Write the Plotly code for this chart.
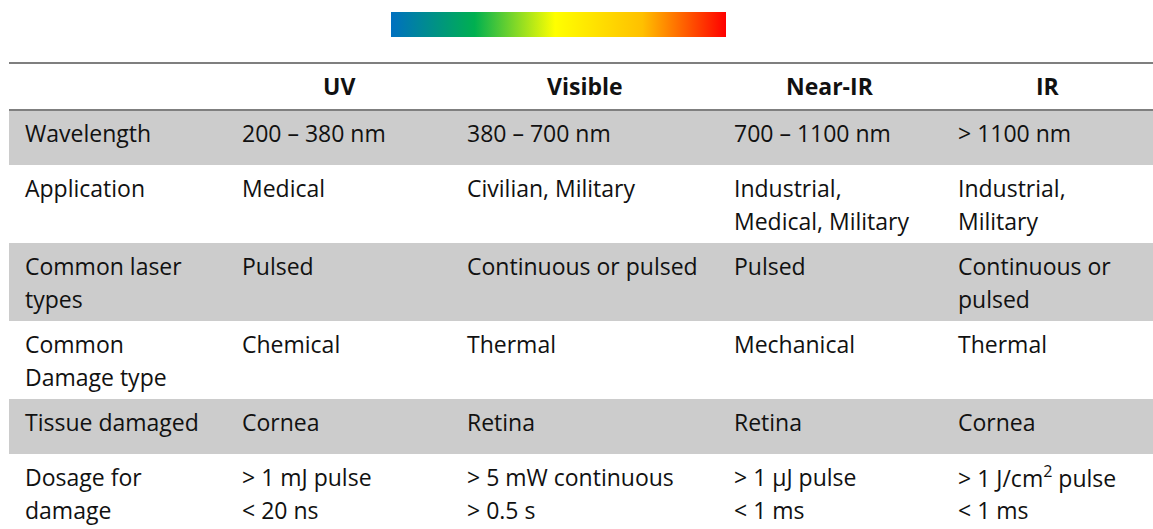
import plotly.graph_objects as go

# table content
headers = ["", "UV", "Visible", "Near-IR", "IR"]
row_labels = ["Wavelength", "Application", "Common laser<br>types",
              "Common<br>Damage type", "Tissue damaged", "Dosage for<br>damage"]
uv = ["200 – 380 nm", "Medical", "Pulsed", "Chemical", "Cornea",
      "> 1 mJ pulse<br>< 20 ns"]
visible = ["380 – 700 nm", "Civilian, Military", "Continuous or pulsed",
           "Thermal", "Retina", "> 5 mW continuous<br>> 0.5 s"]
near_ir = ["700 – 1100 nm", "Industrial,<br>Medical, Military", "Pulsed",
           "Mechanical", "Retina", "> 1 µJ pulse<br>< 1 ms"]
ir = ["> 1100 nm", "Industrial,<br>Military", "Continuous or<br>pulsed",
      "Thermal", "Cornea", "> 1 J/cm<sup>2</sup> pulse<br>< 1 ms"]

# spectrum strip
spectrum_stops = [0.0, 0.25, 0.49, 0.75, 1.0]
spectrum_colors = ["#0070C0", "#00B050", "#FFFF00", "#FFC000", "#FF0000"]

W, H = 1153, 529
FONT = "Open Sans"
FS = 23
col_widths = [217, 225, 267, 224, 211]
left = 9
header_top, header_h = 63, 47
row_h = {1: 55, 2: 78}
pad_x, first_line, line_gap = 14, 23, 33
shade = "#CCCCCC"
rule = "#7F7F7F"
ink = "#111111"

columns = [row_labels, uv, visible, near_ir, ir]
col_left = [left]
for w in col_widths[:-1]:
    col_left.append(col_left[-1] + w)

fig = go.Figure()

# gradient strip drawn as a horizontal colorbar
fig.add_trace(go.Scatter(
    x=[-100], y=[-100], mode="markers", hoverinfo="skip", showlegend=False,
    marker=dict(
        size=1, color=[0], cmin=0, cmax=1,
        colorscale=[[s, c] for s, c in zip(spectrum_stops, spectrum_colors)],
        showscale=True,
        colorbar=dict(
            orientation="h", x=391 / W, y=1 - 12 / H, xanchor="left", yanchor="top",
            lenmode="pixels", len=335, thickness=25, outlinewidth=0,
            ticks="", showticklabels=False, xpad=0, ypad=0,
        ),
    ),
))

shapes = []
annotations = []

# header
for c, h in enumerate(headers):
    if h:
        annotations.append(dict(
            x=col_left[c] + col_widths[c] / 2, y=header_top + header_h / 2 - 1,
            text="<b>" + h + "</b>", xanchor="center", yanchor="middle",
            showarrow=False, font=dict(family=FONT, size=FS, color=ink)))

# body rows
y = header_top + header_h
for r in range(len(row_labels)):
    n_lines = max(col[r].count("<br>") + 1 for col in columns)
    h = row_h[n_lines]
    if r % 2 == 0:
        shapes.append(dict(type="rect", xref="x", yref="y", x0=left, x1=W,
                           y0=y, y1=y + h, fillcolor=shade, line_width=0,
                           layer="below"))
    for c, col in enumerate(columns):
        for k, part in enumerate(col[r].split("<br>")):
            annotations.append(dict(
                x=col_left[c] + pad_x, y=y + first_line + k * line_gap,
                text=part, xanchor="left", yanchor="middle", showarrow=False,
                font=dict(family=FONT, size=FS, color=ink)))
    y += h

# top and header rules
for yy in (header_top, header_top + header_h):
    shapes.append(dict(type="line", xref="x", yref="y", x0=left, x1=W,
                       y0=yy, y1=yy, line=dict(color=rule, width=2)))

fig.update_layout(
    width=W, height=H,
    margin=dict(l=0, r=0, t=0, b=0),
    paper_bgcolor="white", plot_bgcolor="white",
    xaxis=dict(range=[0, W], visible=False, fixedrange=True),
    yaxis=dict(range=[H, 0], visible=False, fixedrange=True),
    shapes=shapes, annotations=annotations, showlegend=False,
)

fig.write_html("out.html", config={"displayModeBar": False},
               post_script="document.body.style.margin='0';")
